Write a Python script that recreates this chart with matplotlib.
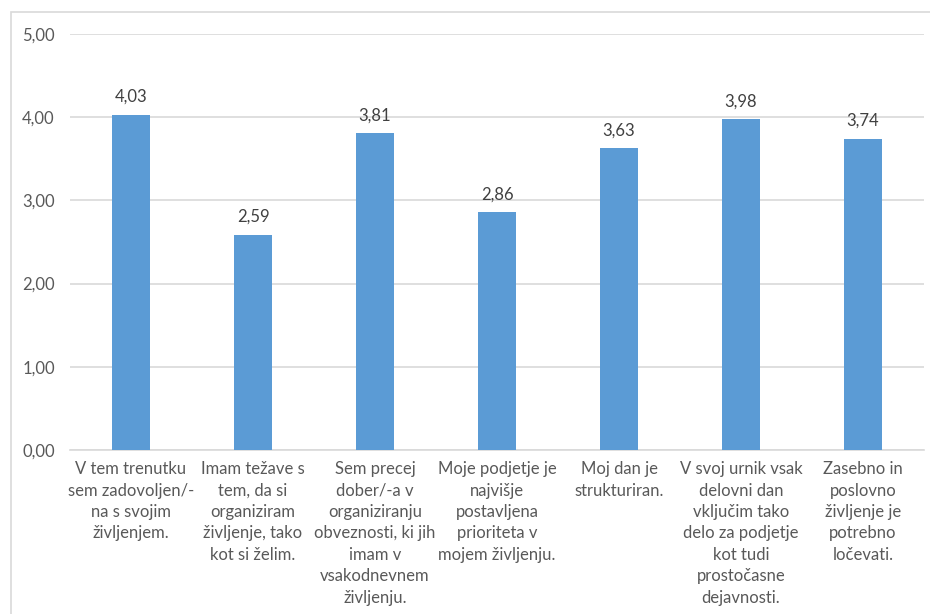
import matplotlib
matplotlib.use("Agg")
import matplotlib.pyplot as plt
from matplotlib.patches import Rectangle

categories = [
    "V tem trenutku\nsem zadovoljen/-\nna s svojim\nživljenjem.",
    "Imam težave s\ntem, da si\norganiziram\nživljenje, tako\nkot si želim.",
    "Sem precej\ndober/-a v\norganiziranju\nobveznosti, ki jih\nimam v\nvsakodnevnem\nživljenju.",
    "Moje podjetje je\nnajvišje\npostavljena\nprioriteta v\nmojem življenju.",
    "Moj dan je\nstrukturiran.",
    "V svoj urnik vsak\ndelovni dan\nvključim tako\ndelo za podjetje\nkot tudi\nprostočasne\ndejavnosti.",
    "Zasebno in\nposlovno\nživljenje je\npotrebno\nločevati.",
]
values = [4.03, 2.59, 3.81, 2.86, 3.63, 3.98, 3.74]
yticks = [0, 1, 2, 3, 4, 5]

plt.rcParams['font.family'] = ['Lato', 'DejaVu Sans']
W, H = 930, 614
fig = plt.figure(figsize=(W/100, H/100), dpi=100)
fig.patches.append(Rectangle((11/W, -0.1), 1.2, (H-12)/H + 0.1, transform=fig.transFigure,
                             fill=False, edgecolor='#D9D9D9', linewidth=1.2))
ax = fig.add_axes([70/W, (H-450)/H, (924-70)/W, (450-34)/H])

x = list(range(len(values)))
bars = ax.bar(x, values, width=0.31, color='#5B9BD5', zorder=3)
for xi, v in zip(x, values):
    ax.annotate(f"{v:.2f}".replace('.', ','), (xi, v), xytext=(0, 7), textcoords='offset points',
                ha='center', va='bottom', fontsize=12, color='#404040')

ax.set_xlim(-0.5, len(values) - 0.5)
ax.set_ylim(0, 5)
ax.set_yticks(yticks)
ax.set_yticklabels([f"{t:.2f}".replace('.', ',') for t in yticks], fontsize=12, color='#595959')
ax.yaxis.grid(True, color='#D9D9D9', linewidth=1.2, zorder=0)
ax.set_axisbelow(True)
ax.tick_params(axis='y', length=0, pad=11)
ax.tick_params(axis='x', length=0, pad=8)
ax.set_xticks(x)
ax.set_xticklabels(categories, fontsize=12, color='#595959', linespacing=1.42, va='top')
for s in ['top', 'right', 'left']:
    ax.spines[s].set_visible(False)
ax.spines['bottom'].set_color('#D9D9D9')
ax.spines['bottom'].set_linewidth(1.2)

fig.savefig("out.png", dpi=100)
